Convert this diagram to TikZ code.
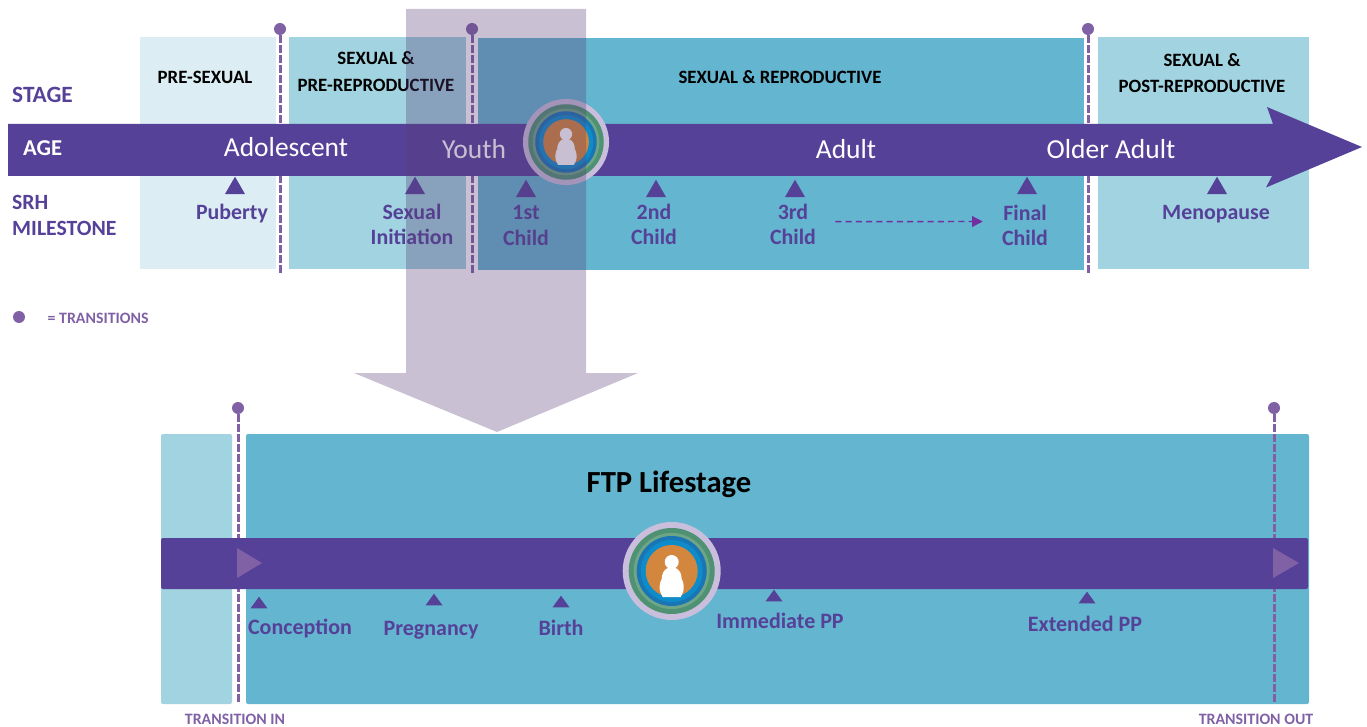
\documentclass[tikz,border=0pt]{standalone}
\usepackage{fontspec}
\setmainfont{Carlito}
\usetikzlibrary{shapes.geometric,arrows.meta}
\definecolor{bandpurple}{RGB}{86,65,153}
\definecolor{dotpurple}{RGB}{128,97,165}
\definecolor{arrowpurple}{RGB}{112,48,160}
\definecolor{palebox}{RGB}{220,238,244}
\definecolor{lightbox}{RGB}{161,211,224}
\definecolor{tealbox}{RGB}{100,181,207}
\definecolor{overlaypurple}{RGB}{86,61,117}
\tikzset{
  stagetext/.style={font=\bfseries\fontsize{14.1}{20}\selectfont, text=black, align=center},
  agetext/.style={font=\fontsize{20.6}{22}\selectfont, text=white},
  sidetext/.style={font=\bfseries\fontsize{16.3}{19}\selectfont, text=bandpurple, align=left, anchor=west},
  miletext/.style={font=\bfseries\fontsize{16.4}{19.3}\selectfont, text=bandpurple, align=center},
  lifetext/.style={font=\bfseries\fontsize{16.5}{19}\selectfont, text=bandpurple},
  smalltext/.style={font=\bfseries\fontsize{11.9}{12}\selectfont, text=dotpurple},
  toptri/.style={isosceles triangle, isosceles triangle stretches, shape border rotate=90, fill=bandpurple, inner sep=0pt, minimum width=15pt, minimum height=13pt, anchor=apex},
  lowtri/.style={toptri, minimum width=12.75pt, minimum height=8.75pt},
  dot/.style={circle, fill=dotpurple, inner sep=0pt, minimum size=9pt},
  transline/.style={dotpurple, line width=2.25pt, dash pattern=on 5.5pt off 2pt},
  lifeicon/.pic={
    \fill[fill={rgb,255:red,201;green,190;blue,220}] (0,0) circle (49);
    \fill[fill={rgb,255:red,79;green,146;blue,115}] (0,0) circle (43);
    \fill[fill={rgb,255:red,110;green,165;blue,134}] (0,0) circle (38);
    \fill[fill={rgb,255:red,26;green,117;blue,181}] (0,0) circle (35);
    \fill[fill={rgb,255:red,14;green,140;blue,201}] (0,0) circle (31);
    \fill[fill={rgb,255:red,211;green,134;blue,62}] (0,0) circle (26);
    \fill[white] (0,-9) circle (7);
    \fill[white] (-4,-3) .. controls (-8,-1) and (-10,3) .. (-10,8) .. controls (-12,11) and (-13,18) .. (-11,22) -- (-9,26)
      -- (9,26) -- (11,22) .. controls (13,18) and (12,11) .. (10,8) .. controls (10,3) and (8,-1) .. (4,-3) -- cycle;
  }
}
\begin{document}
\begin{tikzpicture}[x=0.75pt,y=-0.75pt]
\useasboundingbox (0,0) rectangle (1367,727);
% top stages
\fill[palebox] (140,37) rectangle (276,269);
\fill[lightbox] (289,37) rectangle (466,269);
\fill[tealbox] (478,38) rectangle (1084,270);
\fill[lightbox] (1098,37) rectangle (1309,269);
\node[stagetext] (presexual) at (205,77) {PRE-SEXUAL};
\node[stagetext] (prerepro) at (376,71.5) {SEXUAL \&\\PRE-REPRODUCTIVE};
\node[stagetext] (repro) at (780,77) {SEXUAL \& REPRODUCTIVE};
\node[stagetext] (postrepro) at (1202,73) {SEXUAL \&\\POST-REPRODUCTIVE};
% transitions
\node[dot] (dotA) at (280,29) {};
\node[dot] (dotB) at (472,29) {};
\node[dot] (dotC) at (1088,29) {};
\coordinate (endA) at (280,275);
\coordinate (endB) at (472,275);
\coordinate (endC) at (1088,275);
\draw[transline] (dotA) -- (endA);
\draw[transline] (dotB) -- (endB);
\draw[transline] (dotC) -- (endC);
% age arrow
\fill[bandpurple] (8,124) -- (1273,124) -- (1267,107) -- (1362,147) -- (1266,187.5) -- (1272,176) -- (8,176) -- cycle;
\node[sidetext, font=\bfseries\fontsize{17.5}{19}\selectfont] (stage) at (7.5,95) {STAGE};
\node[sidetext, font=\bfseries\fontsize{17}{19}\selectfont, text=white] (age) at (18.5,148) {AGE};
\node[sidetext] (srh) at (7.5,215.5) {SRH\\MILESTONE};
\node[agetext] (adolescent) at (286,147) {Adolescent};
\node[agetext] (youth) at (474,149) {Youth};
\node[agetext] (adult) at (846,149) {Adult};
\node[agetext] (older) at (1111,149) {Older Adult};
\pic at (566,142) [scale=0.878] {lifeicon};
% milestones
\node[toptri] (triA) at (235,176) {};
\node[toptri] (triB) at (415,176) {};
\node[toptri] (triC) at (526,179) {};
\node[toptri] (triD) at (656,179) {};
\node[toptri] (triE) at (795,179) {};
\node[toptri] (triF) at (1027,176) {};
\node[toptri] (triG) at (1217,176) {};
\node[miletext] (puberty) at (232,214) {Puberty};
\node[miletext] (sexinit) at (412,224.5) {Sexual\\Initiation};
\node[miletext] (firstchild) at (526,225.5) {1st\\Child};
\node[miletext] (secondchild) at (654,224.5) {2nd\\Child};
\node[miletext] (thirdchild) at (793,224.5) {3rd\\Child};
\node[miletext] (finalchild) at (1025,225.5) {Final\\Child};
\node[miletext] (menopause) at (1216,214) {Menopause};
\draw[arrowpurple, line width=1.1pt, dash pattern=on 4.5pt off 3.2pt, -{Triangle[length=8pt,width=8pt]}, shorten <=11pt, shorten >=11pt] ([yshift=2.2pt]thirdchild.east) -- ([yshift=3pt]finalchild.west);
\node[dot] (dotkey) at (19,317) {};
\node[smalltext, anchor=west] (keytext) at (43,318) {= TRANSITIONS};
% lower panel
\fill[lightbox, rounded corners=1.5pt] (161,434) rectangle (232,704);
\fill[tealbox, rounded corners=1.5pt] (246,434) rectangle (1309,704);
\node[dot] (dotIn) at (238,408) {};
\node[dot] (dotOut) at (1274,408) {};
\coordinate (endIn) at (238,703);
\coordinate (endOut) at (1274,703);
\draw[transline] (dotIn) -- (endIn);
\draw[transline] (dotOut) -- (endOut);
\fill[bandpurple, rounded corners=1.5pt] (161,538) rectangle (1308,589);
\fill[dotpurple] (237,548) -- (262,563) -- (237,578) -- cycle;
\fill[dotpurple] (1273,548) -- (1299,563) -- (1273,578) -- cycle;
\node[font=\bfseries\fontsize{23}{26}\selectfont, text=black] (lifestage) at (669,484) {FTP Lifestage};
\pic at (671.7,571) {lifeicon};
\node[lowtri] (triH) at (259,596) {};
\node[lowtri] (triI) at (434,593) {};
\node[lowtri] (triJ) at (561,595) {};
\node[lowtri] (triK) at (774,589) {};
\node[lowtri] (triL) at (1087,591) {};
\node[lifetext] (conception) at (300,628) {Conception};
\node[lifetext] (pregnancy) at (431,630) {Pregnancy};
\node[lifetext] (birth) at (561,628) {Birth};
\node[lifetext] (immediate) at (780,621) {Immediate PP};
\node[lifetext] (extended) at (1085,624) {Extended PP};
\node[smalltext] (transin) at (235,719) {TRANSITION IN};
\node[smalltext] (transout) at (1256,719) {TRANSITION OUT};
% zoom arrow on top
\fill[overlaypurple, opacity=0.32] (406,9) -- (586,9) -- (586,373) -- (638,373) -- (497,432) -- (354,373) -- (406,373) -- cycle;
\end{tikzpicture}
\end{document}
